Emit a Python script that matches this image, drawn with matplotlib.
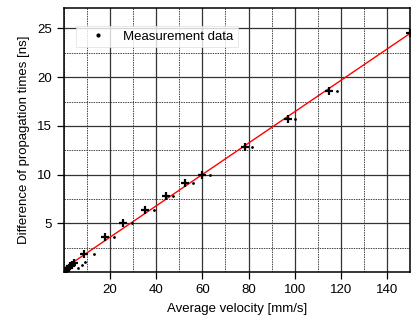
import matplotlib.pyplot as plt
import numpy as np
from matplotlib.ticker import MultipleLocator

plt.rcParams['font.family'] = ['Liberation Sans', 'DejaVu Sans']

velocity = [0.5, 1.2, 2.0, 2.8, 3.6, 4.5, 8.8, 17.8, 25.7, 35.1, 44.1, 52.5, 59.7, 78.5, 96.9, 115.0, 150.0]
delta_t = [0.15, 0.3, 0.45, 0.6, 0.75, 0.95, 1.85, 3.56, 5.0, 6.37, 7.84, 9.1, 9.96, 12.87, 15.7, 18.6, 24.5]

# small dots
dot_velocity = [6.2, 7.7, 9.1, 13.1, 21.7, 29.5, 39.0, 47.4, 55.8, 63.3, 81.5, 100.0, 118.5]
dot_delta_t = [0.38, 0.72, 1.0, 1.85, 3.56, 5.0, 6.37, 7.84, 9.1, 9.96, 12.87, 15.7, 18.6]

fig = plt.figure(figsize=(4.11, 3.15), dpi=100)
ax = fig.add_axes([64 / 411, 43 / 315, 346 / 411, 264 / 315])

ax.set_xlim(0, 150)
ax.set_ylim(0, 27.1)
ax.xaxis.set_major_locator(MultipleLocator(20))
ax.xaxis.set_minor_locator(MultipleLocator(10))
ax.yaxis.set_major_locator(MultipleLocator(5))
ax.yaxis.set_minor_locator(MultipleLocator(2.5))
ax.grid(which='major', color='#333333', lw=0.9, ls='-')
ax.grid(which='minor', color='#444444', lw=0.7, ls=(0, (1.5, 1)))
ax.set_axisbelow(True)

ax.set_xticks([20, 40, 60, 80, 100, 120, 140])
ax.set_yticks([5, 10, 15, 20, 25])
ax.tick_params(which='major', direction='out', length=5, width=0.9, labelsize=9.5, colors='black')
ax.tick_params(which='minor', length=0)
for s in ax.spines.values():
    s.set_linewidth(1.1)

# linear fit
k, b = np.polyfit(velocity, delta_t, 1)
xs = np.array([0, 150])
ax.plot(xs, k * xs + b, color='red', lw=1, zorder=3)

ax.plot(dot_velocity, dot_delta_t, ls='none', marker='.', ms=2, color='black', zorder=4)
ax.plot(velocity, delta_t, ls='none', marker='+', ms=6, mew=1.6, color='black', zorder=4)

# legend entry
ax.plot([], [], ls='none', marker='.', ms=4, color='black', label='Measurement data')
leg = ax.legend(loc='upper left', bbox_to_anchor=(0.035, 0.932), borderaxespad=0,
                fontsize=9.5, frameon=True, fancybox=False, edgecolor='#dddddd',
                handlelength=2.6, handletextpad=0.6, borderpad=0.35)
leg.get_frame().set_linewidth(0.6)
leg.set_zorder(5)

ax.set_xlabel('Average velocity [mm/s]', fontsize=9.5, labelpad=5)
ax.set_ylabel('Difference of propagation times [ns]', fontsize=9.5, labelpad=5)

fig.savefig('out.png', dpi=100)
